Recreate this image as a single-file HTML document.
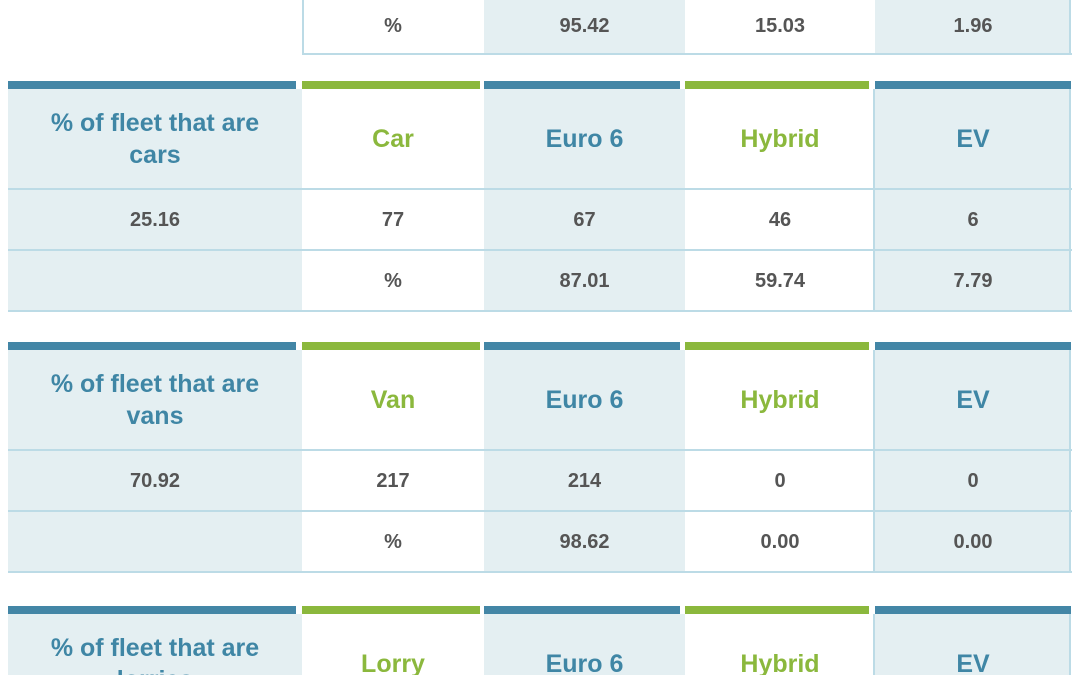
<!DOCTYPE html>
<html style="width:1080px;height:675px;overflow:hidden"><head><meta charset="utf-8">
<style>
html,body{margin:0;width:1080px;height:675px;overflow:hidden;background:#fff;font-family:"Liberation Sans",sans-serif}
body{position:relative}
.c{position:absolute;display:flex;align-items:center;justify-content:center;text-align:center;box-sizing:border-box}
.bl{background:#e4eff2}
.hd{font-size:25px;font-weight:bold;line-height:32px}
.b{color:#3f86a5}.g{color:#8bb83d}
.v{font-size:20px;font-weight:bold;color:#555}
.line{position:absolute;height:2px;background:#bcdbe6}
.vl{position:absolute;width:2px;background:#bcdbe6}
.bar{position:absolute;height:8px}
.cut{align-items:flex-start;overflow:hidden}
</style></head><body>
<script>
const colX=[8,302,484,685,875];
const colW=[288,178,196,184,196];
const barColors=['#4386a6','#8bb83d','#4386a6','#8bb83d','#4386a6'];
const tables=[
 {y:81,title:'% of fleet that are cars',head:['Car','Euro 6','Hybrid','EV'],r1:['25.16','77','67','46','6'],r2:['','%','87.01','59.74','7.79'],name:'cars'},
 {y:342,title:'% of fleet that are vans',head:['Van','Euro 6','Hybrid','EV'],r1:['70.92','217','214','0','0'],r2:['','%','98.62','0.00','0.00'],name:'vans'},
 {y:606,title:'% of fleet that are lorries',head:['Lorry','Euro 6','Hybrid','EV'],r1:['','','','',''],r2:['','','','',''],name:'lorries'}
];
function mk(cls,x,y,w,h,txt){const d=document.createElement('div');d.className=cls;d.style.left=x+'px';d.style.top=y+'px';d.style.width=w+'px';d.style.height=h+'px';if(txt!==undefined)d.textContent=txt;document.body.appendChild(d);return d;}
const topVals=['%','95.42','15.03','1.96'];
for(let i=1;i<5;i++){
 const e=mk('c v'+(i%2==0?' bl':''),colX[i],0,colW[i]+(i<4?colX[i+1]-colX[i]-colW[i]:0),53,topVals[i-1]);
 
 
}
mk('line',303,53,769,2);
mk('vl',302,0,2,55);
mk('vl',1069,0,2,55);
tables.forEach(t=>{
 const y=t.y;
 const full=(y+230<=675);
 for(let i=0;i<5;i++){
  const b=mk('bar',colX[i],y,colW[i],8);b.style.background=barColors[i];
  
  
  const w=(i<4?colX[i+1]-colX[i]:colW[i]);
  const bg=(i%2==0)?' bl':'';
  let h;
  if(full){
   h=mk('c hd '+(i%2==0?'b':'g')+bg,colX[i],y+8,w,100,i==0?t.title:t.head[i-1]);
   if(i==0){h.style.padding='0 25px';}
  } else {
   h=mk('c hd cut '+(i%2==0?'b':'g')+bg,colX[i],y+8,w,675-(y+8),i==0?t.title:t.head[i-1]);
   h.style.paddingTop=(i==0?18:34)+'px';
   if(i==0){h.style.paddingLeft='25px';h.style.paddingRight='25px';}
  }
  
  
  if(full){
  const r1=mk('c v'+bg,colX[i],y+109,w,60,t.r1[i]);
  
  
  const r2=mk('c v'+bg,colX[i],y+170,w,60,t.r2[i]);
  
  
  }
 }
 if(full){
 mk('line',8,y+107,1064,2);
 mk('line',8,y+168,1064,2);
 mk('line',8,y+229,1064,2);
 mk('vl',873,y+8,2,222);
 mk('vl',1069,y+8,2,222);
 } else {
 mk('vl',873,y+8,2,675-(y+8));
 mk('vl',1069,y+8,2,675-(y+8));
 }
});
</script>
</body></html>
